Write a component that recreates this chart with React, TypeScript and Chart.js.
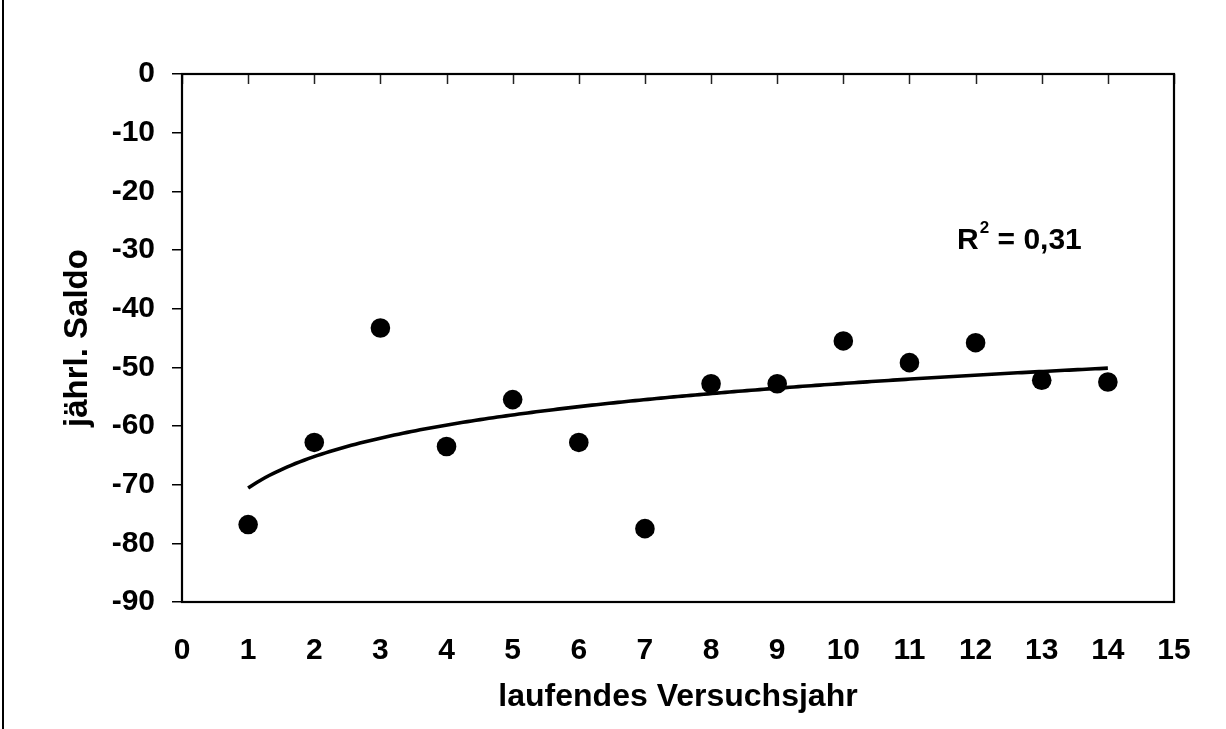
import React, { useEffect, useRef } from "react";
import { Chart, registerables } from "chart.js";

Chart.register(...registerables);

// ---- data ----
const years: number[] = [1, 2, 3, 4, 5, 6, 7, 8, 9, 10, 11, 12, 13, 14];
const saldo: number[] = [-76.8, -62.8, -43.3, -63.5, -55.5, -62.8, -77.5, -52.8, -52.8, -45.5, -49.2, -45.8, -52.2, -52.5];
const xRange: number[] = [0, 15];
const yRange: number[] = [-90, 0];
const xTitle = "laufendes Versuchsjahr";
const yTitle = "jährl. Saldo";
const r2LabelPos = { x: 11.72, y: -29.8 };

// logarithmic trend line fitted to the data (least squares, y = a ln x + b)
function logFit(xs: number[], ys: number[]) {
  const L = xs.map((v) => Math.log(v));
  const n = xs.length;
  const mL = L.reduce((s, v) => s + v, 0) / n;
  const mY = ys.reduce((s, v) => s + v, 0) / n;
  let sxy = 0, sxx = 0, syy = 0;
  for (let i = 0; i < n; i++) {
    sxy += (L[i] - mL) * (ys[i] - mY);
    sxx += (L[i] - mL) ** 2;
    syy += (ys[i] - mY) ** 2;
  }
  const a = sxy / sxx;
  const b = mY - a * mL;
  return { a, b, r2: (sxy * sxy) / (sxx * syy) };
}

const FONT = "'Liberation Sans', Arial, Helvetica, sans-serif";

export default function App() {
  const ref = useRef<HTMLCanvasElement | null>(null);

  useEffect(() => {
    document.body.style.margin = "0";
    const canvas = ref.current;
    if (!canvas) return;
    const fit = logFit(years, saldo);
    const x0 = years[0];
    const x1 = years[years.length - 1];
    const trend: { x: number; y: number }[] = [];
    const steps = 200;
    for (let i = 0; i <= steps; i++) {
      const x = x0 + ((x1 - x0) * i) / steps;
      trend.push({ x, y: fit.a * Math.log(x) + fit.b });
    }
    const r2Text = fit.r2.toFixed(2).replace(".", ",");

    const decor = {
      id: "decor",
      beforeDatasetsDraw(chart: any) {
        const { ctx, chartArea } = chart;
        const xs = chart.scales.x;
        ctx.save();
        // small tick marks along the top (x axis crosses at y = 0)
        ctx.strokeStyle = "#222";
        ctx.lineWidth = 1.5;
        for (let v = xRange[0]; v <= xRange[1]; v++) {
          const px = Math.round(xs.getPixelForValue(v)) + 0.5;
          ctx.beginPath();
          ctx.moveTo(px, chartArea.top);
          ctx.lineTo(px, chartArea.top + 10);
          ctx.stroke();
        }
        // plot frame
        ctx.strokeStyle = "#000";
        ctx.lineWidth = 2.2;
        ctx.strokeRect(chartArea.left, chartArea.top, chartArea.right - chartArea.left, chartArea.bottom - chartArea.top);
        ctx.restore();
      },
      afterDraw(chart: any) {
        const { ctx } = chart;
        const xs = chart.scales.x;
        const ys = chart.scales.y;
        ctx.save();
        // outer border (left edge visible)
        ctx.fillStyle = "#000";
        ctx.fillRect(2, 0, 2, chart.height);
        // R² label
        const px = xs.getPixelForValue(r2LabelPos.x);
        const py = ys.getPixelForValue(r2LabelPos.y);
        ctx.fillStyle = "#000";
        ctx.textBaseline = "alphabetic";
        ctx.textAlign = "left";
        ctx.font = `bold 30px ${FONT}`;
        ctx.fillText("R", px, py);
        const wR = ctx.measureText("R").width;
        ctx.font = `bold 17px ${FONT}`;
        ctx.fillText("2", px + wR + 1, py - 16);
        const w2 = ctx.measureText("2").width;
        ctx.font = `bold 30px ${FONT}`;
        ctx.fillText(" = " + r2Text, px + wR + w2 + 1, py);
        ctx.restore();
      },
    };

    const tickFont = { family: FONT, size: 30, weight: "bold" as const };
    const titleFont = { family: FONT, size: 32, weight: "bold" as const };

    const chart = new Chart(canvas, {
      type: "scatter",
      data: {
        datasets: [
          {
            label: "Saldo",
            data: years.map((x, i) => ({ x, y: saldo[i] })),
            pointRadius: 9.8,
            pointHoverRadius: 9.8,
            backgroundColor: "#000",
            borderColor: "#000",
            borderWidth: 0,
            order: 0,
          },
          {
            label: "Trend",
            type: "line" as any,
            data: trend,
            showLine: true,
            pointRadius: 0,
            borderColor: "#000",
            borderWidth: 3.6,
            tension: 0,
            fill: false,
            order: 1,
          } as any,
        ],
      },
      options: {
        animation: false,
        responsive: false,
        maintainAspectRatio: false,
        events: [],
        layout: { padding: { top: 74, right: 52, left: 0, bottom: 0 } },
        plugins: {
          legend: { display: false },
          tooltip: { enabled: false },
          title: { display: false },
        },
        scales: {
          x: {
            type: "linear",
            position: "bottom",
            min: xRange[0],
            max: xRange[1],
            ticks: { stepSize: 1, color: "#000", font: tickFont, padding: 31, maxRotation: 0, autoSkip: false },
            grid: { display: false, drawTicks: false },
            border: { display: false },
            title: {
              display: true,
              text: xTitle,
              color: "#000",
              font: titleFont,
              padding: { top: 0, bottom: 13 },
            },
            afterFit: (s: any) => {
              s.height = 127;
            },
          },
          y: {
            type: "linear",
            min: yRange[0],
            max: yRange[1],
            ticks: { stepSize: 10, color: "#000", font: tickFont, padding: 17 },
            grid: { drawOnChartArea: false, drawTicks: true, tickLength: 10, color: "#000", lineWidth: 1.5 },
            border: { display: false },
            title: {
              display: true,
              text: yTitle,
              color: "#000",
              font: { family: FONT, size: 33, weight: "bold" as const },
              padding: { top: 58, bottom: 0 },
            },
            afterFit: (s: any) => {
              s.width = 182;
            },
          },
        },
      },
      plugins: [decor],
    });
    return () => chart.destroy();
  }, []);

  return (
    <div style={{ width: 1226, height: 729, background: "#fff" }}>
      <canvas ref={ref} width={1226} height={729} style={{ display: "block" }} />
    </div>
  );
}
